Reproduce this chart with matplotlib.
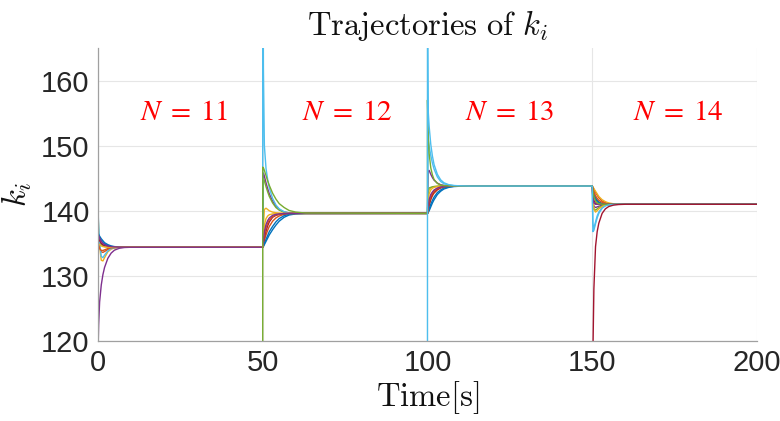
"""Trajectories of k_i for a growing group of agents (N = 11 .. 14)."""

import matplotlib

matplotlib.use("Agg")
import matplotlib.pyplot as plt
import numpy as np

# time offsets (s) inside each 50 s segment at which the curves were read
t_off = [0, 0.2, 0.5, 1, 1.5, 2, 3, 4, 5, 6.5, 8, 10, 13, 50]
seg_starts = [0, 50, 100, 150]
absent_level = 0.0  # k of an agent before it joins (off the visible range)

# one row per agent present in the segment
k_seg1 = [
    [136.3, 136.1, 135.8, 135.4, 135.1, 134.9, 134.65, 134.52, 134.46, 134.42, 134.4, 134.4, 134.4, 134.4],
    [136.0, 135.1, 134.3, 133.7, 133.6, 133.75, 134.05, 134.25, 134.34, 134.38, 134.4, 134.4, 134.4, 134.4],
    [139.8, 137.4, 134.6, 132.4, 132.3, 132.8, 133.7, 134.1, 134.3, 134.37, 134.4, 134.4, 134.4, 134.4],
    [118.0, 122.5, 126.0, 128.6, 130.2, 131.3, 132.7, 133.5, 133.95, 134.25, 134.36, 134.4, 134.4, 134.4],
    [135.6, 135.4, 135.1, 134.8, 134.62, 134.52, 134.44, 134.41, 134.4, 134.4, 134.4, 134.4, 134.4, 134.4],
    [140.1, 137.9, 135.1, 133.0, 132.8, 133.2, 133.85, 134.2, 134.33, 134.38, 134.4, 134.4, 134.4, 134.4],
    [135.9, 135.7, 135.4, 135.0, 134.78, 134.64, 134.5, 134.44, 134.41, 134.4, 134.4, 134.4, 134.4, 134.4],
    [136.6, 136.4, 136.1, 135.7, 135.4, 135.1, 134.8, 134.6, 134.5, 134.43, 134.41, 134.4, 134.4, 134.4],
    [135.3, 134.8, 134.2, 133.9, 133.9, 134.0, 134.2, 134.3, 134.36, 134.39, 134.4, 134.4, 134.4, 134.4],
    [135.0, 134.9, 134.8, 134.6, 134.5, 134.45, 134.41, 134.4, 134.4, 134.4, 134.4, 134.4, 134.4, 134.4],
    [136.5, 136.2, 135.8, 135.3, 135.0, 134.8, 134.6, 134.5, 134.45, 134.41, 134.4, 134.4, 134.4, 134.4],
]
k_seg2 = [
    [134.4, 134.5, 134.8, 135.3, 135.8, 136.3, 137.1, 137.8, 138.4, 139.0, 139.35, 139.52, 139.58, 139.6],
    [134.4, 134.8, 135.4, 136.3, 137.0, 137.6, 138.4, 138.9, 139.2, 139.45, 139.55, 139.59, 139.6, 139.6],
    [134.4, 137.5, 140.2, 140.4, 140.2, 140.0, 139.8, 139.7, 139.65, 139.62, 139.6, 139.6, 139.6, 139.6],
    [134.4, 145.8, 145.3, 144.3, 143.4, 142.6, 141.5, 140.7, 140.2, 139.8, 139.67, 139.62, 139.6, 139.6],
    [134.4, 145.0, 144.6, 143.7, 142.9, 142.2, 141.2, 140.5, 140.1, 139.8, 139.67, 139.62, 139.6, 139.6],
    [200.0, 162.0, 150.0, 146.5, 144.8, 143.5, 141.9, 140.9, 140.3, 139.85, 139.68, 139.62, 139.6, 139.6],
    [134.4, 135.0, 135.9, 136.9, 137.7, 138.3, 139.0, 139.3, 139.45, 139.55, 139.59, 139.6, 139.6, 139.6],
    [134.4, 134.6, 135.0, 135.6, 136.2, 136.8, 137.6, 138.3, 138.8, 139.25, 139.45, 139.56, 139.6, 139.6],
    [134.4, 135.2, 136.3, 137.4, 138.1, 138.6, 139.1, 139.35, 139.48, 139.56, 139.59, 139.6, 139.6, 139.6],
    [134.4, 136.2, 137.8, 138.8, 139.2, 139.4, 139.52, 139.57, 139.59, 139.6, 139.6, 139.6, 139.6, 139.6],
    [134.4, 135.6, 136.8, 137.9, 138.5, 138.9, 139.3, 139.45, 139.53, 139.58, 139.6, 139.6, 139.6, 139.6],
    [146.7, 146.6, 146.2, 145.4, 144.6, 143.9, 142.7, 141.8, 141.1, 140.5, 140.05, 139.8, 139.65, 139.6],
]
k_seg3 = [
    [139.6, 139.7, 140.0, 140.6, 141.2, 141.7, 142.5, 143.0, 143.35, 143.6, 143.72, 143.78, 143.8, 143.8],
    [139.6, 140.0, 140.8, 141.7, 142.3, 142.7, 143.2, 143.5, 143.65, 143.75, 143.79, 143.8, 143.8, 143.8],
    [139.6, 142.5, 143.2, 143.5, 143.65, 143.7, 143.76, 143.79, 143.8, 143.8, 143.8, 143.8, 143.8, 143.8],
    [139.6, 146.0, 146.2, 145.6, 145.1, 144.7, 144.25, 144.0, 143.9, 143.84, 143.81, 143.8, 143.8, 143.8],
    [139.6, 143.3, 143.5, 143.6, 143.68, 143.73, 143.77, 143.79, 143.8, 143.8, 143.8, 143.8, 143.8, 143.8],
    [139.6, 151.0, 150.0, 148.5, 147.3, 146.4, 145.2, 144.5, 144.15, 143.95, 143.86, 143.82, 143.8, 143.8],
    [139.6, 140.1, 141.0, 141.9, 142.5, 142.9, 143.3, 143.55, 143.68, 143.76, 143.79, 143.8, 143.8, 143.8],
    [139.6, 139.8, 140.3, 141.0, 141.6, 142.1, 142.8, 143.2, 143.5, 143.68, 143.76, 143.79, 143.8, 143.8],
    [139.6, 140.3, 141.3, 142.2, 142.7, 143.0, 143.4, 143.6, 143.7, 143.77, 143.8, 143.8, 143.8, 143.8],
    [139.6, 141.5, 142.6, 143.2, 143.45, 143.6, 143.72, 143.77, 143.79, 143.8, 143.8, 143.8, 143.8, 143.8],
    [139.6, 140.6, 141.7, 142.5, 142.9, 143.2, 143.5, 143.65, 143.73, 143.78, 143.8, 143.8, 143.8, 143.8],
    [157.0, 152.0, 148.8, 146.6, 145.5, 144.8, 144.2, 143.95, 143.86, 143.82, 143.8, 143.8, 143.8, 143.8],
    [175.0, 155.5, 153.0, 150.2, 148.4, 147.1, 145.6, 144.75, 144.3, 144.0, 143.88, 143.83, 143.8, 143.8],
]
k_seg4 = [
    [143.8, 143.2, 142.5, 141.8, 141.4, 141.2, 141.05, 141.01, 141.0, 141.0, 141.0, 141.0, 141.0, 141.0],
    [143.8, 143.6, 143.3, 142.8, 142.4, 142.0, 141.5, 141.25, 141.1, 141.03, 141.01, 141.0, 141.0, 141.0],
    [143.8, 143.7, 143.4, 143.0, 142.6, 142.2, 141.7, 141.4, 141.2, 141.07, 141.02, 141.0, 141.0, 141.0],
    [143.8, 141.8, 140.7, 140.5, 140.6, 140.7, 140.85, 140.93, 140.97, 140.99, 141.0, 141.0, 141.0, 141.0],
    [143.8, 141.5, 140.3, 140.1, 140.3, 140.5, 140.75, 140.9, 140.96, 140.99, 141.0, 141.0, 141.0, 141.0],
    [143.8, 138.0, 137.3, 138.3, 139.2, 139.8, 140.5, 140.8, 140.92, 140.98, 141.0, 141.0, 141.0, 141.0],
    [143.8, 142.5, 141.6, 141.1, 141.02, 141.0, 141.0, 141.0, 141.0, 141.0, 141.0, 141.0, 141.0, 141.0],
    [143.8, 143.3, 142.7, 142.0, 141.6, 141.35, 141.12, 141.04, 141.01, 141.0, 141.0, 141.0, 141.0, 141.0],
    [143.8, 143.4, 142.9, 142.3, 141.9, 141.6, 141.3, 141.12, 141.05, 141.01, 141.0, 141.0, 141.0, 141.0],
    [143.8, 141.8, 140.2, 139.8, 140.0, 140.3, 140.65, 140.85, 140.94, 140.99, 141.0, 141.0, 141.0, 141.0],
    [143.8, 142.0, 141.2, 141.0, 141.0, 141.0, 141.0, 141.0, 141.0, 141.0, 141.0, 141.0, 141.0, 141.0],
    [143.8, 143.0, 142.2, 141.5, 141.2, 141.08, 141.02, 141.0, 141.0, 141.0, 141.0, 141.0, 141.0, 141.0],
    [143.8, 136.8, 137.0, 138.0, 138.9, 139.6, 140.4, 140.75, 140.9, 140.97, 141.0, 141.0, 141.0, 141.0],
    [0.0, 118.0, 128.0, 134.5, 136.8, 138.1, 139.6, 140.3, 140.65, 140.88, 140.96, 141.0, 141.0, 141.0],
]
segments = [k_seg1, k_seg2, k_seg3, k_seg4]
n_labels = [r"$N\;=\;11$", r"$N\;=\;12$", r"$N\;=\;13$", r"$N\;=\;14$"]
label_t = [26, 75.5, 125, 176]
label_k = 155.2

matlab_colors = ["#0072BD", "#D95319", "#EDB120", "#7E2F8E", "#77AC30", "#4DBEEE", "#A2142F"]

plt.rcParams["mathtext.fontset"] = "cm"
plt.rcParams["font.family"] = ["Liberation Sans", "DejaVu Sans"]

n_agents = len(k_seg4)
offsets = np.array(t_off)
time = np.concatenate([start + offsets for start in seg_starts])

fig = plt.figure(figsize=(7.8, 4.21), dpi=100)
ax = fig.add_axes([0.1256, 0.19, 0.8449, 0.696])

for agent in range(n_agents):
    values = []
    for seg in segments:
        if agent < len(seg):
            values.append(np.array(seg[agent]))
        else:
            values.append(np.full(len(t_off), absent_level))
    ax.plot(time, np.concatenate(values), color=matlab_colors[agent % len(matlab_colors)], lw=1.0)

for text, tx in zip(n_labels, label_t):
    ax.text(tx, label_k, text, color="#FF0000", fontsize=21, ha="center", va="center",
            math_fontfamily="stix")

ax.set_xlim(0, 200)
ax.set_ylim(120, 165)
ax.set_xticks([0, 50, 100, 150, 200])
ax.set_yticks([120, 130, 140, 150, 160])
ax.grid(True, color="#e6e6e6", lw=0.8)
ax.set_axisbelow(True)
for side in ["top", "right"]:
    ax.spines[side].set_visible(False)
for side in ["left", "bottom"]:
    ax.spines[side].set_color("#a0a0a0")
    ax.spines[side].set_linewidth(0.9)
ax.tick_params(labelsize=21, colors="#262626", length=0, pad=6)

ax.set_title(r"$\mathrm{Trajectories\ of\ }k_i$", fontsize=23.5, pad=9, color="#111111")
ax.set_xlabel(r"$\mathrm{Time[s]}$", fontsize=23.5, labelpad=1, color="#111111")
ax.set_ylabel(r"$k_i$", fontsize=23.5, labelpad=5, color="#111111")

fig.savefig("out.png", dpi=100)
